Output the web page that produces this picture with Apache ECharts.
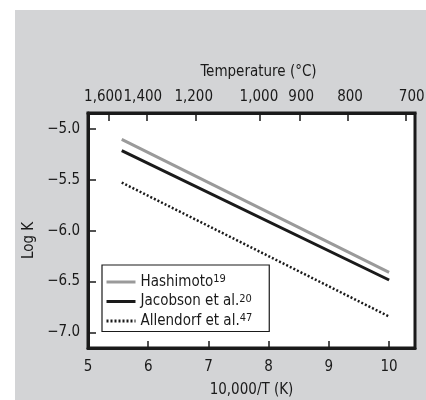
<!DOCTYPE html>
<html><head><meta charset="utf-8">
<script src="https://cdn.jsdelivr.net/npm/echarts@6/dist/echarts.min.js"></script>
<style>
html,body{margin:0;padding:0;background:#fff;}
#wrap{position:relative;width:426px;height:400px;background:#fff;}
#panel{position:absolute;left:15px;top:10px;width:411px;height:390px;background:#d3d4d6;}
#chart{position:absolute;left:0;top:0;width:426px;height:400px;}
</style></head>
<body><div id="wrap"><div id="panel"></div><div id="chart"></div></div>
<script>
// Data
const seriesNames = ['Hashimoto', 'Jacobson et al.', 'Allendorf et al.'];
const seriesRefs = ['19', '20', '47'];
const xStartEnd = [5.56, 10.0];
const hashimoto = [-5.10, -6.41];
const jacobson = [-5.21, -6.485];
const allendorf = [-5.525, -6.845];
const xTicks = [5, 6, 7, 8, 9, 10];
const yTicks = [-7.0, -6.5, -6.0, -5.5, -5.0];
const tempTicksC = [1600, 1400, 1200, 1000, 900, 800, 700];

// Style
const font = '"DejaVu Sans Condensed", "Liberation Sans", Arial, sans-serif';
const fs = 15;
const ink = '#1a1a1a';
const xMin = 5, xMax = 10.43, yMin = -7.155, yMax = -4.84;
const tempLabelNudge = [-5, -4, -2, -1, 1, 2, 6]; // px horizontal offset of top labels
const tempPos = tempTicksC.map(t => 10000 / (t + 273.15));

function pts(ys) { return xStartEnd.map((x, i) => [x, ys[i]]); }

const tempRich = {};
tempLabelNudge.forEach((d, i) => {
  tempRich['t' + i] = {fontFamily: font, fontSize: fs, color: ink,
    padding: d < 0 ? [0, -2 * d, 0, 0] : [0, 0, 0, 2 * d]};
});

const chart = echarts.init(document.getElementById('chart'), null, {renderer: 'canvas'});
chart.setOption({
  backgroundColor: 'transparent',
  animation: false,
  textStyle: {fontFamily: font, color: ink},
  grid: {left: 88, right: 11, top: 113, bottom: 52, show: true, backgroundColor: '#fff', borderColor: ink, borderWidth: 3,
    outerBoundsMode: 'none', containLabel: false},
  legend: {
    orient: 'vertical', left: 102, top: 265,
    backgroundColor: '#fff', borderColor: ink, borderWidth: 1.2, borderRadius: 0,
    padding: [9, 17, 3, 3], itemGap: 4, itemWidth: 29, itemHeight: 14,
    itemStyle: {opacity: 0},
    lineStyle: {width: 3},
    data: seriesNames,
    formatter: function (name) {
      const i = seriesNames.indexOf(name);
      return '{m|' + name + '}{s|' + seriesRefs[i] + '}';
    },
    textStyle: {
      fontFamily: font, color: ink,
      rich: {
        m: {fontFamily: font, fontSize: fs, color: ink, lineHeight: 16, verticalAlign: 'middle'},
        s: {fontFamily: font, fontSize: 11, color: ink, lineHeight: 10, verticalAlign: 'top'}
      }
    }
  },
  xAxis: [{
    type: 'value', position: 'bottom', min: xMin, max: xMax,
    name: '10,000/T (K)', nameLocation: 'middle', nameGap: 35,
    nameTextStyle: {fontFamily: font, fontSize: fs, color: ink},
    axisLine: {show: true, lineStyle: {color: ink, width: 3}},
    axisTick: {show: true, inside: true, length: 7, lineStyle: {color: ink, width: 1.5}, customValues: xTicks},
    axisLabel: {show: true, interval: 0, showMinLabel: true, margin: 12, fontFamily: font, fontSize: fs, color: ink, customValues: xTicks,
      formatter: v => String(Math.round(v))},
    splitLine: {show: false}
  }, {
    type: 'value', position: 'top', min: xMin, max: xMax,
    name: 'Temperature (°C)', nameLocation: 'middle', nameGap: 33,
    nameTextStyle: {fontFamily: font, fontSize: fs, color: ink, padding: [0, 0, 0, 14]},
    axisLine: {show: true, lineStyle: {color: ink, width: 3}},
    axisTick: {show: true, inside: true, length: 8, lineStyle: {color: ink, width: 1.5}, customValues: tempPos},
    axisLabel: {show: true, interval: 0, hideOverlap: false, showMinLabel: true, showMaxLabel: true, margin: 8,
      fontFamily: font, fontSize: fs, color: ink, customValues: tempPos,
      rich: tempRich,
      formatter: function (v) {
        let best = 0, bd = Infinity;
        tempPos.forEach((p, i) => { const d = Math.abs(p - v); if (d < bd) { bd = d; best = i; } });
        return '{t' + best + '|' + tempTicksC[best].toLocaleString('en-US') + '}';
      }},
    splitLine: {show: false}
  }],
  yAxis: [{
    type: 'value', min: yMin, max: yMax,
    name: 'Log K', nameLocation: 'middle', nameGap: 44,
    nameTextStyle: {fontFamily: font, fontSize: fs, color: ink, padding: [0, 20, 0, 0]},
    axisLine: {show: true, lineStyle: {color: ink, width: 3}},
    axisTick: {show: true, inside: true, length: 8, lineStyle: {color: ink, width: 1.5}, customValues: yTicks},
    axisLabel: {show: true, interval: 0, showMinLabel: true, showMaxLabel: true, margin: 8, padding: [5, 0, 0, 0],
      fontFamily: font, fontSize: fs, color: ink, customValues: yTicks,
      formatter: v => '\u2212' + Math.abs(v).toFixed(1)},
    splitLine: {show: false}
  }],
  series: [
    {name: seriesNames[0], type: 'line', data: pts(hashimoto), symbol: 'none', silent: true,
      lineStyle: {color: '#9a9a9a', width: 3}, itemStyle: {color: '#9a9a9a'}},
    {name: seriesNames[1], type: 'line', data: pts(jacobson), symbol: 'none', silent: true,
      lineStyle: {color: ink, width: 3}, itemStyle: {color: ink}},
    {name: seriesNames[2], type: 'line', data: pts(allendorf), symbol: 'none', silent: true,
      lineStyle: {color: ink, width: 2.5, type: [2, 2]}, itemStyle: {color: ink}}
  ]
});
</script></body></html>
